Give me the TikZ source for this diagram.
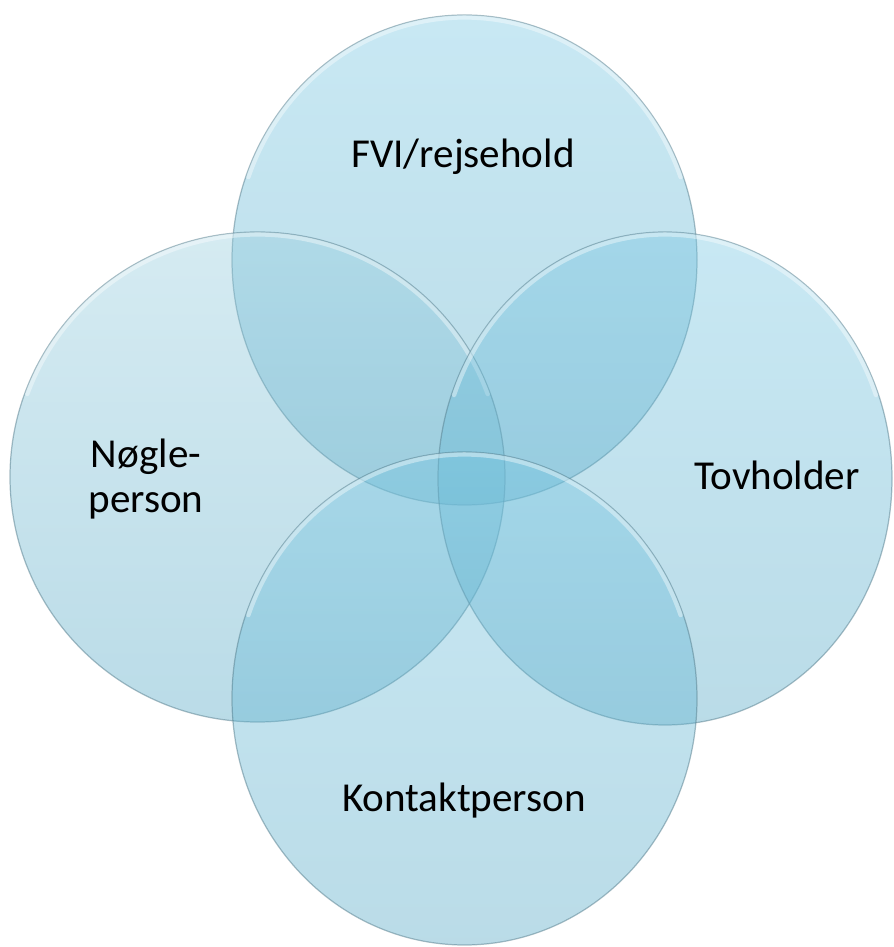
\documentclass[tikz,border=0pt]{standalone}
\usepackage{fontspec}
\setmainfont{Carlito}
\definecolor{vtop}{RGB}{118,198,226}
\definecolor{vbot}{RGB}{82,166,196}
\definecolor{vpale}{RGB}{150,205,222}
\definecolor{vline}{RGB}{85,125,140}
\begin{document}
\begin{tikzpicture}[x=0.02cm,y=0.02cm,
  venn/.style={top color=vtop, bottom color=vbot, fill opacity=0.4, draw=vline, draw opacity=0.5, line width=0.7pt},
  glow/.style={white, line width=2.5pt, opacity=0.4, line cap=round},
  lbl/.style={font=\fontsize{23.4}{26.1}\selectfont, text=black, anchor=base, align=center}]
\useasboundingbox (0,0) rectangle (893,947);
%\draw[step=50,gray,very thin] (0,0) grid (893,947); %background grid
\draw[venn] (464.5,687) ellipse [x radius=232.5, y radius=245]; %top
\draw[glow] ([shift={(160:230 and 242.5)}]464.5,687) arc[start angle=160, end angle=20, x radius=230, y radius=242.5];
\draw[venn, top color=vpale] (257.5,470) ellipse [x radius=247.5, y radius=245]; %left
\draw[glow] ([shift={(160:245 and 242.5)}]257.5,470) arc[start angle=160, end angle=20, x radius=245, y radius=242.5];
\draw[venn] (665,468.5) ellipse [x radius=227, y radius=246.5]; %right
\draw[glow] ([shift={(160:224.5 and 244)}]665,468.5) arc[start angle=160, end angle=20, x radius=224.5, y radius=244];
\draw[venn] (464.5,248.5) ellipse [x radius=232.5, y radius=246.5]; %bottom
\draw[glow] ([shift={(160:230 and 244)}]464.5,248.5) arc[start angle=160, end angle=20, x radius=230, y radius=244];
% labels
\node[lbl] (fvi) at (463,779) {FVI/rejsehold};
\node[lbl] (noegle) at (146,434) {Nøgle-\\person};
\node[lbl] (tovholder) at (777,457) {Tovholder};
\node[lbl] (kontakt) at (464,135) {Kontaktperson};
\end{tikzpicture}
\end{document}
